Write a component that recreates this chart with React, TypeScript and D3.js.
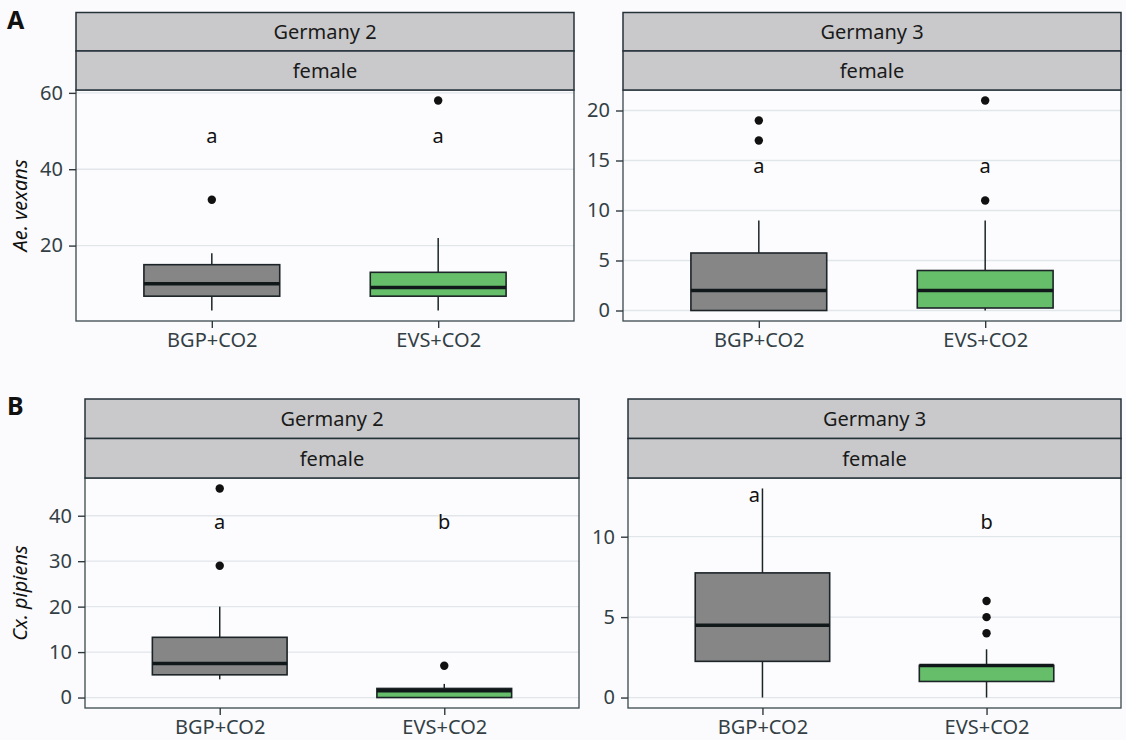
import { useEffect, useRef } from 'react';
import * as d3 from 'd3';

const categories = ['BGP+CO2', 'EVS+CO2'];
const boxFills = ['#868687', '#66be6b'];

// A: Ae. vexans, Germany 2
const vexansG2 = [
  { lo: 3, q1: 6.75, med: 10, q3: 15, hi: 18, out: [32] },
  { lo: 3, q1: 6.75, med: 9, q3: 13, hi: 22, out: [58] },
];
const vexansG2Ticks = [20, 40, 60];
const vexansG2Letters = ['a', 'a'];
const vexansG2LetterY = [47, 47];

// A: Ae. vexans, Germany 3
const vexansG3 = [
  { lo: 0, q1: 0, med: 2, q3: 5.75, hi: 9, out: [17, 19] },
  { lo: 0, q1: 0.25, med: 2, q3: 4, hi: 9, out: [11, 21] },
];
const vexansG3Ticks = [0, 5, 10, 15, 20];
const vexansG3Letters = ['a', 'a'];
const vexansG3LetterY = [13.8, 13.8];

// B: Cx. pipiens, Germany 2
const pipiensG2 = [
  { lo: 4, q1: 5, med: 7.5, q3: 13.25, hi: 20, out: [29, 46] },
  { lo: 0, q1: 0, med: 1.5, q3: 2, hi: 3, out: [7] },
];
const pipiensG2Ticks = [0, 10, 20, 30, 40];
const pipiensG2Letters = ['a', 'b'];
const pipiensG2LetterY = [37, 37];

// B: Cx. pipiens, Germany 3
const pipiensG3 = [
  { lo: 0, q1: 2.25, med: 4.5, q3: 7.75, hi: 13, out: [] as number[] },
  { lo: 0, q1: 1, med: 2, q3: 2, hi: 3, out: [4, 5, 6] },
];
const pipiensG3Ticks = [0, 5, 10];
const pipiensG3Letters = ['a', 'b'];
const pipiensG3LetterY = [12.15, 10.5];

const FONT = '"Noto Sans", "DejaVu Sans", sans-serif';

export default function App() {
  const ref = useRef<SVGSVGElement>(null);

  useEffect(() => {
    if (!ref.current) return;
    const svg = d3.select(ref.current);
    svg.selectAll('*').remove();

    svg.append('rect').attr('width', 1126).attr('height', 740).attr('fill', '#fbfbfd');

    const rows = [
      { tag: 'A', top: 12.5, mid: 51, plotTop: 90, bottom: 321, title: 'Ae. vexans', cols: [[76, 574], [623, 1121]] },
      { tag: 'B', top: 399, mid: 438.5, plotTop: 478, bottom: 708, title: 'Cx. pipiens', cols: [[85, 579], [628, 1121]] },
    ];

    const panels = [
      { row: 0, col: 0, site: 'Germany 2', boxes: vexansG2, ticks: vexansG2Ticks, letters: vexansG2Letters, letterY: vexansG2LetterY, letterDx: [0, 0] },
      { row: 0, col: 1, site: 'Germany 3', boxes: vexansG3, ticks: vexansG3Ticks, letters: vexansG3Letters, letterY: vexansG3LetterY, letterDx: [0, 0] },
      { row: 1, col: 0, site: 'Germany 2', boxes: pipiensG2, ticks: pipiensG2Ticks, letters: pipiensG2Letters, letterY: pipiensG2LetterY, letterDx: [0, 0] },
      { row: 1, col: 1, site: 'Germany 3', boxes: pipiensG3, ticks: pipiensG3Ticks, letters: pipiensG3Letters, letterY: pipiensG3LetterY, letterDx: [-8, 0] },
    ];

    rows.forEach((r) => {
      svg.append('text')
        .attr('x', 7).attr('y', r.top + 16)
        .attr('font-family', FONT).attr('font-weight', 'bold').attr('font-size', 25)
        .attr('fill', '#111').text(r.tag);
      svg.append('text')
        .attr('transform', `translate(27,${(r.plotTop + r.bottom) / 2}) rotate(-90)`)
        .attr('text-anchor', 'middle')
        .attr('font-family', FONT).attr('font-style', 'italic').attr('font-size', 20)
        .attr('fill', '#111').text(r.title);
    });

    panels.forEach((p) => {
      const r = rows[p.row];
      const [x0, x1] = r.cols[p.col];
      const g = svg.append('g');

      const all = p.boxes.flatMap((b) => [b.lo, b.hi, ...b.out]);
      const lo = d3.min(all) as number;
      const hi = d3.max(all) as number;
      const pad = (hi - lo) * 0.05;
      const y = d3.scaleLinear().domain([lo - pad, hi + pad]).range([r.bottom, r.plotTop]);
      const x = d3.scalePoint().domain(categories).range([x0, x1]).padding(0.6);
      const bw = x.step() * 0.6;

      g.append('rect')
        .attr('x', x0).attr('y', r.plotTop).attr('width', x1 - x0).attr('height', r.bottom - r.plotTop)
        .attr('fill', '#fcfcfe');

      g.selectAll('.grid').data(p.ticks).join('line')
        .attr('x1', x0).attr('x2', x1)
        .attr('y1', (d) => y(d)).attr('y2', (d) => y(d))
        .attr('stroke', '#e1e6ea').attr('stroke-width', 1.3);

      p.boxes.forEach((b, i) => {
        const cx = x(categories[i]) as number;
        g.append('line')
          .attr('x1', cx).attr('x2', cx).attr('y1', y(b.lo)).attr('y2', y(b.hi))
          .attr('stroke', '#1c2427').attr('stroke-width', 1.5);
        g.append('rect')
          .attr('x', cx - bw / 2).attr('width', bw)
          .attr('y', y(b.q3)).attr('height', Math.max(0, y(b.q1) - y(b.q3)))
          .attr('fill', boxFills[i]).attr('stroke', '#1c2427').attr('stroke-width', 1.6);
        g.append('line')
          .attr('x1', cx - bw / 2).attr('x2', cx + bw / 2).attr('y1', y(b.med)).attr('y2', y(b.med))
          .attr('stroke', '#111819').attr('stroke-width', 3.5);
        g.selectAll(null).data(b.out).join('circle')
          .attr('cx', cx).attr('cy', (d) => y(d)).attr('r', 4.2)
          .attr('fill', '#111');
        g.append('text')
          .attr('x', cx + p.letterDx[i]).attr('y', y(p.letterY[i]))
          .attr('text-anchor', 'middle')
          .attr('font-family', FONT).attr('font-size', 20).attr('fill', '#111')
          .text(p.letters[i]);
      });

      g.append('rect')
        .attr('x', x0).attr('y', r.plotTop).attr('width', x1 - x0).attr('height', r.bottom - r.plotTop)
        .attr('fill', 'none').attr('stroke', '#3a474c').attr('stroke-width', 1.3);

      // strips
      [[r.top, r.mid, p.site], [r.mid, r.plotTop, 'female']].forEach(([t, b, label]) => {
        g.append('rect')
          .attr('x', x0).attr('y', t as number).attr('width', x1 - x0).attr('height', (b as number) - (t as number))
          .attr('fill', '#c9c9cb').attr('stroke', '#26323a').attr('stroke-width', 1.5);
        g.append('text')
          .attr('x', (x0 + x1) / 2).attr('y', ((t as number) + (b as number)) / 2 + 7.5)
          .attr('text-anchor', 'middle')
          .attr('font-family', FONT).attr('font-size', 20).attr('fill', '#1a1a1a')
          .text(label as string);
      });

      const ya = g.append('g').attr('transform', `translate(${x0},0)`)
        .call(d3.axisLeft(y).tickValues(p.ticks).tickSize(7).tickPadding(6).tickFormat(d3.format('d')));
      const xa = g.append('g').attr('transform', `translate(0,${r.bottom})`)
        .call(d3.axisBottom(x).tickSize(7).tickPadding(5));
      [ya, xa].forEach((a) => {
        a.select('.domain').remove();
        a.selectAll('line').attr('stroke', '#2f3a3f').attr('stroke-width', 1.4);
        a.selectAll('text').attr('font-family', FONT).attr('font-size', 20).attr('fill', '#333f45');
      });
    });
  }, []);

  return (
    <div style={{ position: 'absolute', left: 0, top: 0 }}>
      <svg ref={ref} width={1126} height={740} style={{ display: 'block' }} />
    </div>
  );
}
